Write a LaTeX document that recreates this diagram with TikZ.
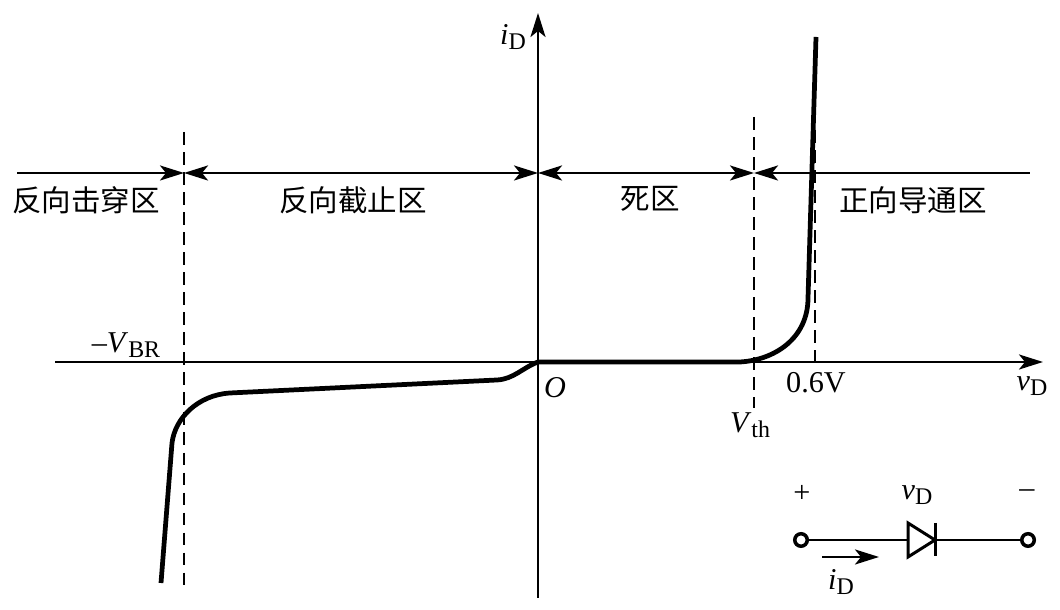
\documentclass[tikz,border=0pt]{standalone}
\usepackage{fontspec}
\usepackage{tikz}
\usetikzlibrary{arrows.meta}
\setmainfont{Liberation Serif}
\newfontfamily\cjk{Noto Sans CJK SC}
\newcommand{\qvar}[2]{\textit{#1}\raisebox{-.35ex}{\fontsize{6.8}{7}\selectfont #2}}
\tikzset{
    >={Stealth[length=.24cm,width=.15cm,inset=.06cm]},
    axisline/.style={line width=.75pt},
    curveline/.style={line width=1.35pt},
    guideline/.style={line width=.8pt, dash pattern=on 3.6pt off 2.1pt},
    regionlabel/.style={font=\cjk\fontsize{8.4}{10}\selectfont, inner sep=0pt},
    termdot/.style={circle, draw, line width=1pt, inner sep=0pt, minimum size=.125cm},
    txt/.style={inner sep=0pt, font=\fontsize{8.6}{10}\selectfont}
}
\begin{document}
\begin{tikzpicture}
    \useasboundingbox (0,0) rectangle (10.6,6.1);
    % axes
    \coordinate (xstart) at (.55,2.48);
    \coordinate (xend) at (10.43,2.48);
    \coordinate (ystart) at (5.38,.12);
    \coordinate (yend) at (5.38,5.97);
    \draw[axisline] [->] (xstart) -- (xend);
    \draw[axisline] [->] (ystart) -- (yend);
    \node[txt] (ilabel) at (5.13,5.73) {\qvar{i}{D}};
    \node[txt] (vlabel) at (10.32,2.24) {\qvar{v}{D}};
    \node[txt] (olabel) at (5.55,2.22) {\textit{O}};
    % dashed guides
    \coordinate (brtop) at (1.84,4.78);
    \coordinate (brbot) at (1.84,.2);
    \coordinate (thtop) at (7.54,4.93);
    \coordinate (thbot) at (7.54,2.02);
    \coordinate (ontop) at (8.15,4.8);
    \coordinate (onbot) at (8.15,2.48);
    \draw[guideline] (brtop) -- (brbot);
    \draw[guideline] (thtop) -- (thbot);
    \draw[guideline] (ontop) -- (onbot);
    \node[txt] (brlabel) at (1.26,2.65) {--\qvar{V}{BR}};
    \node[txt] (thlabel) at (7.5,1.85) {\qvar{V}{th}};
    \node[txt] (onlabel) at (8.16,2.27) {0.6V};
    % region arrows
    \coordinate (ra) at (.17,4.37);
    \coordinate (rb) at (1.84,4.37);
    \coordinate (rc) at (5.38,4.37);
    \coordinate (rd) at (7.54,4.37);
    \coordinate (re) at (10.3,4.37);
    \draw[axisline] [->] (ra) -- (rb);
    \draw[axisline] [<->] (rb) -- (rc);
    \draw[axisline] [<->] (rc) -- (rd);
    \draw[axisline] [<-] (rd) -- (re);
    \node[regionlabel] (bdown) at (.86,4.1) {反向击穿区};
    \node[regionlabel] (cutoff) at (3.53,4.1) {反向截止区};
    \node[regionlabel] (dead) at (6.5,4.11) {死区};
    \node[regionlabel] (conduct) at (9.13,4.1) {正向导通区};
    % characteristic
    \draw[curveline] (1.61,.27) -- (1.72,1.67) .. controls (1.75,1.92) and (1.98,2.15) .. (2.3,2.17)
        -- (4.97,2.3) .. controls (5.14,2.31) and (5.22,2.42) .. (5.38,2.48)
        -- (7.4,2.48) .. controls (7.75,2.5) and (8.08,2.72) .. (8.08,3.12) -- (8.16,5.73);
    % diode
    \node[termdot] (plus) at (8.01,.7) {};
    \node[termdot] (minus) at (10.28,.7) {};
    \coordinate (danode) at (9.08,.7);
    \coordinate (dcathode) at (9.35,.7);
    \draw[axisline] (plus) -- (danode);
    \draw[axisline] (dcathode) -- (minus);
    \draw[line width=.85pt] (danode) -- ++(0,.17) -- (dcathode) -- ++(-.27,-.17) -- cycle;
    \draw[line width=.85pt] (9.35,.87) -- (9.35,.54);
    \node[txt] (pluslabel) at (8.02,1.16) {+};
    \node[txt] (vdlabel) at (9.17,1.15) {\qvar{v}{D}};
    \node[txt] (minuslabel) at (10.27,1.16) {--};
    \coordinate (cur1) at (8.22,.53);
    \coordinate (cur2) at (8.79,.53);
    \draw[axisline] [->] (cur1) -- (cur2);
    \node[txt] (cdlabel) at (8.41,.28) {\qvar{i}{D}};
\end{tikzpicture}
\end{document}
